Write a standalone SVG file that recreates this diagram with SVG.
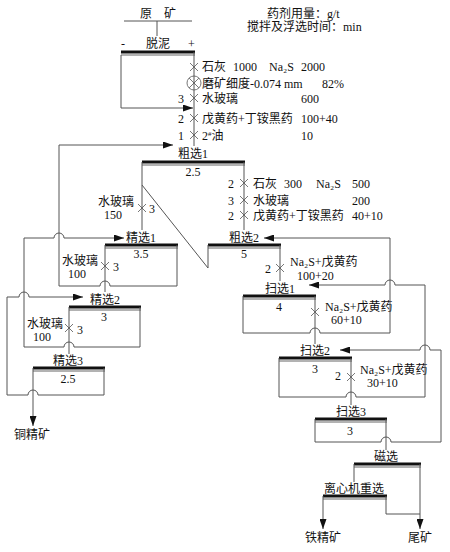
<svg xmlns="http://www.w3.org/2000/svg" width="450" height="552" viewBox="0 0 450 552">
<defs>
<style>
.c{fill:none;stroke:#555;stroke-width:1}
.bar{fill:none;stroke:#111;stroke-width:3}
.bar2{fill:none;stroke:#666;stroke-width:1}
.x{fill:none;stroke:#777;stroke-width:1}
.t{font-family:"Liberation Serif","Noto Sans CJK SC",serif;font-size:12px;fill:#111}
.m{text-anchor:middle}
.e{text-anchor:end}
.s{font-size:7px}
</style>
<marker id="ah" markerUnits="userSpaceOnUse" markerWidth="10" markerHeight="7" refX="10" refY="3.5" orient="auto">
<path d="M0,0 L10,3.5 L0,7 z" fill="#111"/>
</marker>
</defs>
<rect width="450" height="552" fill="#fff"/>

<g id="legend">
<text class="t" x="267" y="18">药剂用量：g/t</text>
<text class="t" x="247" y="31">搅拌及浮选时间：min</text>
</g>

<g id="raw-ore">
<text class="t m" x="158" y="18">原　矿</text>
<path class="c" d="M124 21 H192"/>
</g>

<g id="desliming">
<text class="t" x="121" y="48">-</text>
<text class="t m" x="158" y="48">脱泥</text>
<text class="t" x="188" y="48">+</text>
<path class="bar" d="M121 52 H195"/>
<path class="bar2" d="M121 55 H195"/>
</g>

<g id="rougher1">
<text class="t m" x="193" y="158">粗选1</text>
<path class="bar" d="M142 162 H245"/>
<path class="bar2" d="M142 165 H245"/>
<text class="t m" x="193" y="176">2.5</text>
</g>

<g id="rougher2">
<text class="t m" x="244" y="242">粗选2</text>
<path class="bar" d="M208 245 H281"/>
<path class="bar2" d="M208 248 H281"/>
<text class="t m" x="244" y="258">5</text>
</g>

<g id="cleaner1">
<text class="t m" x="141" y="242">精选1</text>
<path class="bar" d="M105 245 H178"/>
<path class="bar2" d="M105 248 H178"/>
<text class="t m" x="141" y="258">3.5</text>
</g>

<g id="cleaner2">
<text class="t m" x="105" y="304">精选2</text>
<path class="bar" d="M69 307 H141"/>
<path class="bar2" d="M69 310 H141"/>
<text class="t m" x="104" y="321">3</text>
</g>

<g id="cleaner3">
<text class="t m" x="68" y="365">精选3</text>
<path class="bar" d="M33 368 H105"/>
<path class="bar2" d="M33 371 H105"/>
<text class="t m" x="68" y="383">2.5</text>
</g>

<g id="scavenger1">
<text class="t m" x="280" y="293">扫选1</text>
<path class="bar" d="M243 296 H316"/>
<path class="bar2" d="M243 299 H316"/>
<text class="t m" x="279" y="311">4</text>
</g>

<g id="scavenger2">
<text class="t m" x="315" y="355">扫选2</text>
<path class="bar" d="M279 358 H352"/>
<path class="bar2" d="M279 361 H352"/>
<text class="t m" x="315" y="373">3</text>
</g>

<g id="scavenger3">
<text class="t m" x="351" y="416">扫选3</text>
<path class="bar" d="M315 419 H387"/>
<path class="bar2" d="M315 422 H387"/>
<text class="t m" x="350" y="435">3</text>
</g>

<g id="magnetic">
<text class="t m" x="386" y="461">磁选</text>
<path class="bar" d="M354 464 H421"/>
<path class="bar2" d="M354 467 H421"/>
</g>

<g id="centrifuge">
<text class="t m" x="354" y="493">离心机重选</text>
<path class="bar" d="M323 496 H387"/>
<path class="bar2" d="M323 499 H387"/>
</g>

<g id="cu-concentrate"><text class="t m" x="32" y="439">铜精矿</text></g>
<g id="fe-concentrate"><text class="t m" x="323" y="542">铁精矿</text></g>
<g id="tailings"><text class="t m" x="420" y="542">尾矿</text></g>

<g id="reagents-grinding">
<path class="x" d="M190 63 L198 71 M198 63 L190 71"/>
<text class="t" x="202" y="71">石灰</text><text class="t" x="233" y="71">1000</text><text class="t" x="269" y="71">Na₂S</text><text class="t" x="301" y="71">2000</text>
<circle class="x" cx="194" cy="83" r="7"/>
<path class="x" d="M189 78 L199 88 M199 78 L189 88"/>
<text class="t" x="202" y="88">磨矿细度-0.074 mm</text><text class="t" x="322" y="88">82%</text>
<path class="x" d="M190 94 L198 102 M198 94 L190 102"/>
<text class="t" x="178" y="103">3</text><text class="t" x="202" y="103">水玻璃</text><text class="t" x="301" y="103">600</text>
<path class="x" d="M190 114 L198 122 M198 114 L190 122"/>
<text class="t" x="178" y="123">2</text><text class="t" x="202" y="123">戊黄药+丁铵黑药</text><text class="t" x="301" y="123">100+40</text>
<path class="x" d="M190 131 L198 139 M198 131 L190 139"/>
<text class="t" x="178" y="140">1</text><text class="t" x="202" y="140">2<tspan class="s" dy="-4">#</tspan><tspan dy="4">油</tspan></text><text class="t" x="301" y="140">10</text>
</g>

<g id="reagents-rougher2">
<path class="x" d="M240 179 L248 187 M248 179 L240 187"/>
<text class="t" x="228" y="188">2</text><text class="t" x="253" y="188">石灰</text><text class="t" x="284" y="188">300</text><text class="t" x="316" y="188">Na₂S</text><text class="t" x="352" y="188">500</text>
<path class="x" d="M240 196 L248 204 M248 196 L240 204"/>
<text class="t" x="228" y="205">3</text><text class="t" x="253" y="205">水玻璃</text><text class="t" x="352" y="205">200</text>
<path class="x" d="M240 211 L248 219 M248 211 L240 219"/>
<text class="t" x="228" y="220">2</text><text class="t" x="253" y="220">戊黄药+丁铵黑药</text><text class="t" x="352" y="220">40+10</text>
</g>

<g id="reagents-cleaner1">
<path class="x" d="M138 204 L146 212 M146 204 L138 212"/>
<text class="t" x="98" y="206">水玻璃</text><text class="t" x="104" y="219">150</text><text class="t" x="149" y="213">3</text>
<path class="x" d="M101 262 L109 270 M109 262 L101 270"/>
<text class="t" x="62" y="265">水玻璃</text><text class="t" x="68" y="278">100</text><text class="t" x="113" y="271">3</text>
</g>

<g id="reagents-cleaner2">
<path class="x" d="M65 324 L73 332 M73 324 L65 332"/>
<text class="t" x="27" y="328">水玻璃</text><text class="t" x="33" y="341">100</text><text class="t" x="77" y="334">3</text>
</g>

<g id="reagents-scavenger">
<path class="x" d="M276 264 L284 272 M284 264 L276 272"/>
<text class="t" x="265" y="273">2</text><text class="t" x="290" y="266">Na₂S+戊黄药</text><text class="t" x="297" y="280">100+20</text>
<path class="x" d="M311 308 L319 316 M319 308 L311 316"/>
<text class="t" x="325" y="311">Na₂S+戊黄药</text><text class="t" x="331" y="324">60+10</text>
<path class="x" d="M347 373 L355 381 M355 373 L347 381"/>
<text class="t" x="335" y="380">2</text><text class="t" x="360" y="374">Na₂S+戊黄药</text><text class="t" x="367" y="387">30+10</text>
</g>

<g id="connectors">
<path class="c" d="M157 21 V36"/>
<path class="c" d="M121 55 V108 H193" marker-end="url(#ah)"/>
<path class="c" d="M194 52 V146"/>
<path class="c" d="M142 162 V230"/>
<path class="c" d="M244 162 V230"/>
<path class="c" d="M142 185 L208 268"/>
<path class="c" d="M208 245 V268"/>
<path class="c" d="M280 245 V281"/>
<path class="c" d="M105 245 V292"/>
<path class="c" d="M177 245 V286 H110 A5 5 0 0 0 100 286 H59 V145 H173" marker-end="url(#ah)"/>
<path class="c" d="M69 307 V354"/>
<path class="c" d="M140 307 V347 H74 A5 5 0 0 0 64 347 H24 V238 H54 A5 5 0 0 1 64 238 H124" marker-end="url(#ah)"/>
<path class="c" d="M33 368 V426" marker-end="url(#ah)"/>
<path class="c" d="M104 368 V395 H38 A5 5 0 0 0 28 395 H7 V297 H19 A5 5 0 0 1 29 297 H83" marker-end="url(#ah)"/>
<path class="c" d="M243 296 V333 H310 A5 5 0 0 1 320 333 H390 V238 H264" marker-end="url(#ah)"/>
<path class="c" d="M315 296 V344"/>
<path class="c" d="M279 358 V397 H346 A5 5 0 0 1 356 397 H425 V285 H395 A5 5 0 0 0 385 285 H309" marker-end="url(#ah)"/>
<path class="c" d="M351 358 V405"/>
<path class="c" d="M315 419 V442 H381 A5 5 0 0 1 391 442 H441 V350 H430 A5 5 0 0 0 420 350 H340" marker-end="url(#ah)"/>
<path class="c" d="M386 419 V450"/>
<path class="c" d="M354 464 V482"/>
<path class="c" d="M420 464 V529" marker-end="url(#ah)"/>
<path class="c" d="M323 496 V529" marker-end="url(#ah)"/>
<path class="c" d="M386 496 V514 H420"/>
</g>
</svg>
